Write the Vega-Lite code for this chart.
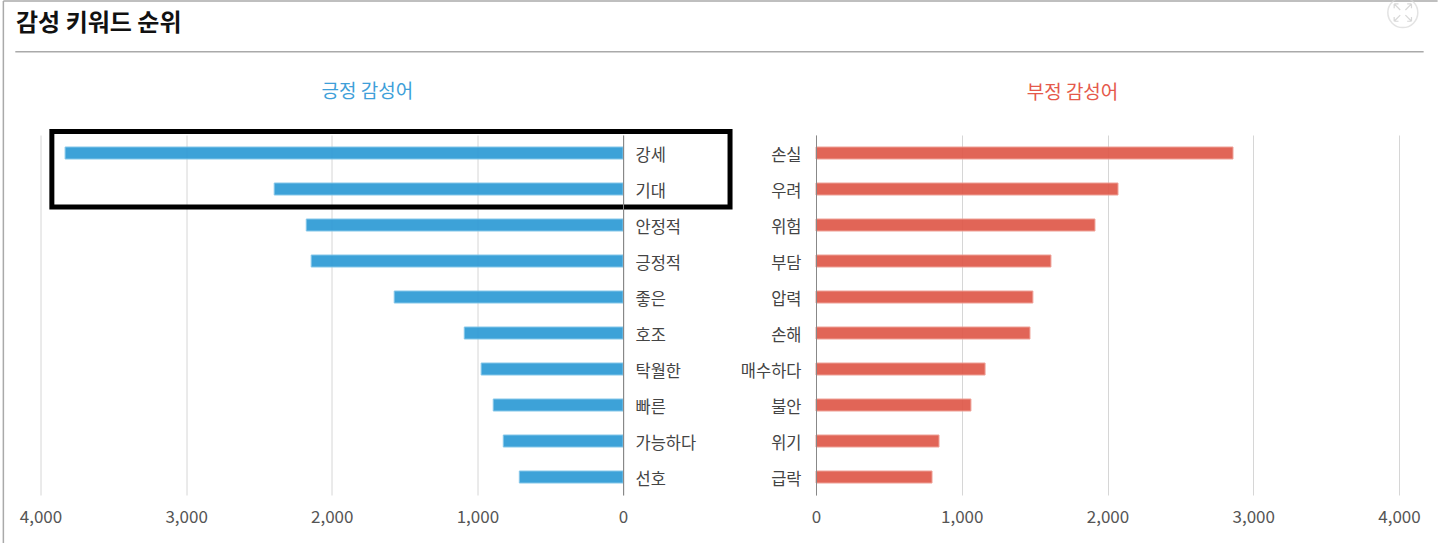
{
"$schema":"https://vega.github.io/schema/vega-lite/v6.json",
"background":"white",
"padding":{"left":2.5,"top":-6,"right":0,"bottom":0},
"bounds":"flush",
"spacing":192.5,
"config":{"font":"Noto Sans CJK KR","view":{"stroke":null},
 "axis":{"labelFont":"Noto Sans CJK KR"}},
"hconcat":[
{"width":582.5,"height":360,
 "layer":[
 {"data":{"values":[
  {"word":"강세","count":3831},{"word":"기대","count":2395},{"word":"안정적","count":2175},{"word":"긍정적","count":2141},{"word":"좋은","count":1571},{"word":"호조","count":1090},{"word":"탁월한","count":974},{"word":"빠른","count":891},{"word":"가능하다","count":822},{"word":"선호","count":712}]},
  "mark":{"type":"bar","size":12,"color":"#2F9BD6","opacity":0.93,"stroke":"#7CC3E8","strokeWidth":1},
  "encoding":{
   "x":{"field":"count","type":"quantitative","scale":{"domain":[0,4000],"reverse":true},
    "axis":{"title":null,"values":[0,1000,2000,3000,4000],"format":",.0f","labelFlush":false,"domain":false,"ticks":false,"grid":true,"gridColor":"#D6D6D6","labelColor":"#555555","labelFontSize":17,"labelPadding":14,"labelFontWeight":"normal"}},
   "y":{"field":"word","type":"nominal","sort":null,
    "scale":{"paddingInner":0,"paddingOuter":0},
    "axis":{"title":null,"orient":"right","ticks":false,"domain":true,"domainColor":"#888888","labelColor":"#444444","labelFontSize":16.5,"labelPadding":12,"labelOffset":3,"zindex":1}}}},
 {"data":{"values":[{"label":"highlight","from":3922,"to":-735,"top":-0.1,"bottom":2.0}]},
  "mark":{"type":"rect","fill":null,"stroke":"#000000","strokeWidth":5,"clip":false},
  "encoding":{
   "x":{"field":"from","type":"quantitative","title":null},
   "x2":{"field":"to"},
   "y":{"field":"top","type":"quantitative","scale":{"domain":[0,10],"reverse":true},"axis":null},
   "y2":{"field":"bottom"}}},
 {"data":{"values":[{"from":4173,"to":-5498,"r":-2.31},{"from":4255,"to":-5594,"r":-3.72}]},
  "mark":{"type":"rule","strokeWidth":1.5,"color":"#AAAAAA","clip":false},
  "encoding":{
   "x":{"field":"from","type":"quantitative","title":null},
   "x2":{"field":"to"},
   "y":{"field":"r","type":"quantitative","scale":{"domain":[0,10],"reverse":true},"axis":null}}},
 {"data":{"values":[{"v":4255,"a":-3.72,"b":11.33}]},
  "mark":{"type":"rule","strokeWidth":1.5,"color":"#AAAAAA","clip":false},
  "encoding":{
   "x":{"field":"v","type":"quantitative","title":null},
   "y":{"field":"a","type":"quantitative","scale":{"domain":[0,10],"reverse":true},"axis":null},
   "y2":{"field":"b"}}},
 {"data":{"values":[{"t":"감성 키워드 순위","v":4168,"r":-3.08}]},
  "mark":{"type":"text","align":"left","baseline":"middle","fontSize":24,"fontWeight":"bold","color":"#111111","clip":false},
  "encoding":{
   "text":{"field":"t"},
   "x":{"field":"v","type":"quantitative","title":null},
   "y":{"field":"r","type":"quantitative","scale":{"domain":[0,10],"reverse":true},"axis":null}}},
 {"data":{"values":[{"t":"긍정 감성어","v":1755,"r":-1.2}]},
  "mark":{"type":"text","align":"center","baseline":"middle","fontSize":19,"fontWeight":"normal","color":"#3E9FD9","clip":false},
  "encoding":{
   "text":{"field":"t"},
   "x":{"field":"v","type":"quantitative","title":null},
   "y":{"field":"r","type":"quantitative","scale":{"domain":[0,10],"reverse":true},"axis":null}}},
 {"data":{"values":[{"v":-5355,"r":-3.4}]},
  "mark":{"type":"point","size":900,"filled":false,"stroke":"#D8D8D8","strokeWidth":1.5,"clip":false},
  "encoding":{
   "x":{"field":"v","type":"quantitative","title":null},
   "y":{"field":"r","type":"quantitative","scale":{"domain":[0,10],"reverse":true},"axis":null}}},
 {"data":{"values":[{"v":-5355,"r":-3.4}]},
  "mark":{"type":"point","size":300,"filled":false,"stroke":"#C8C8C8","strokeWidth":1.2,"clip":false,
   "shape":"M-1,-1L-0.5,-1M-1,-1L-1,-0.5M-1,-1L-0.3,-0.3M1,-1L0.5,-1M1,-1L1,-0.5M1,-1L0.3,-0.3M-1,1L-0.5,1M-1,1L-1,0.5M-1,1L-0.3,0.3M1,1L0.5,1M1,1L1,0.5M1,1L0.3,0.3"},
  "encoding":{
   "x":{"field":"v","type":"quantitative","title":null},
   "y":{"field":"r","type":"quantitative","scale":{"domain":[0,10],"reverse":true},"axis":null}}}
 ],
 "resolve":{"scale":{"y":"independent"}}
},
{"width":583,"height":360,
 "title":{"text":"부정 감성어","color":"#E5594B","fontSize":19,"fontWeight":"normal","anchor":"middle","dx":-35,"offset":32},
 "data":{"values":[
  {"word":"손실","count":2861},{"word":"우려","count":2072},{"word":"위험","count":1914},{"word":"부담","count":1612},{"word":"압력","count":1488},{"word":"손해","count":1468},{"word":"매수하다","count":1160},{"word":"불안","count":1063},{"word":"위기","count":844},{"word":"급락","count":796}]},
 "mark":{"type":"bar","size":12,"color":"#DF5A4B","opacity":0.93,"stroke":"#EE9A90","strokeWidth":1},
 "encoding":{
  "x":{"field":"count","type":"quantitative","scale":{"domain":[0,4000]},
   "axis":{"title":null,"values":[0,1000,2000,3000,4000],"format":",.0f","labelFlush":false,"domain":false,"ticks":false,"grid":true,"gridColor":"#D6D6D6","labelColor":"#555555","labelFontSize":17,"labelPadding":14}},
  "y":{"field":"word","type":"nominal","sort":null,
   "scale":{"paddingInner":0,"paddingOuter":0},
   "axis":{"title":null,"orient":"left","ticks":false,"domain":true,"domainColor":"#888888","labelColor":"#444444","labelFontSize":16.5,"labelPadding":15,"labelOffset":3,"zindex":1}}}
}
]
}
